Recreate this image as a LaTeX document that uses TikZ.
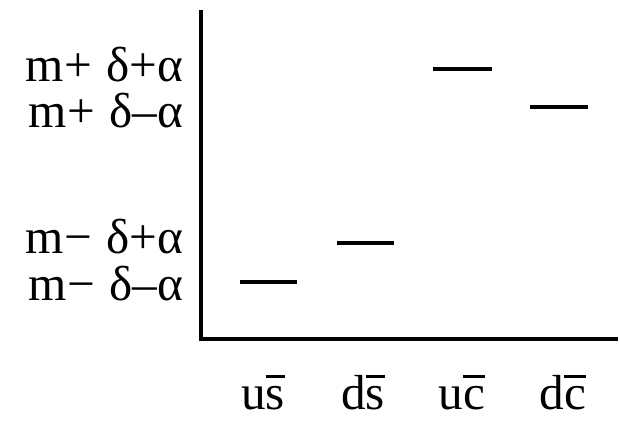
\documentclass[tikz,border=0pt]{standalone}
\usepackage{fontspec}
\setmainfont{Liberation Serif}
\usetikzlibrary{positioning}

\newcommand{\qbar}[1]{\setbox0\hbox{#1}\rlap{\rule[0.64em]{\wd0}{1.6pt}}\box0}

\begin{document}
\begin{tikzpicture}[line width=2pt, every node/.style={inner sep=0pt, font=\fontsize{28}{32}\selectfont}]
  \useasboundingbox (0,0) rectangle (12.4,8.42);

  % axes
  \draw[line width=2.4pt] (4.02,8.22) -- (4.02,1.64) -- (12.36,1.64);

  % mass labels
  \node[anchor=base east] (mpp) at (3.70,6.80) {m+\hspace{0.3em}δ+α};
  \node[anchor=base east] (mpm) at (3.70,5.88) {m+\hspace{0.3em}δ–α};
  \node[anchor=base east] (mmp) at (3.70,3.36) {m−\hspace{0.3em}δ+α};
  \node[anchor=base east] (mmm) at (3.70,2.42) {m−\hspace{0.3em}δ–α};

  % levels
  \draw (4.80,2.78) -- (5.94,2.78);
  \draw (6.74,3.56) -- (7.88,3.56);
  \draw (8.66,7.04) -- (9.84,7.04);
  \draw (10.60,6.28) -- (11.76,6.28);

  % mesons
  \node[anchor=base] (us) at (5.26,0.24) {u\qbar{s}};
  \node[anchor=base] (ds) at (7.26,0.24) {d\qbar{s}};
  \node[anchor=base] (uc) at (9.24,0.24) {u\qbar{c}};
  \node[anchor=base] (dc) at (11.26,0.24) {d\qbar{c}};
\end{tikzpicture}
\end{document}
